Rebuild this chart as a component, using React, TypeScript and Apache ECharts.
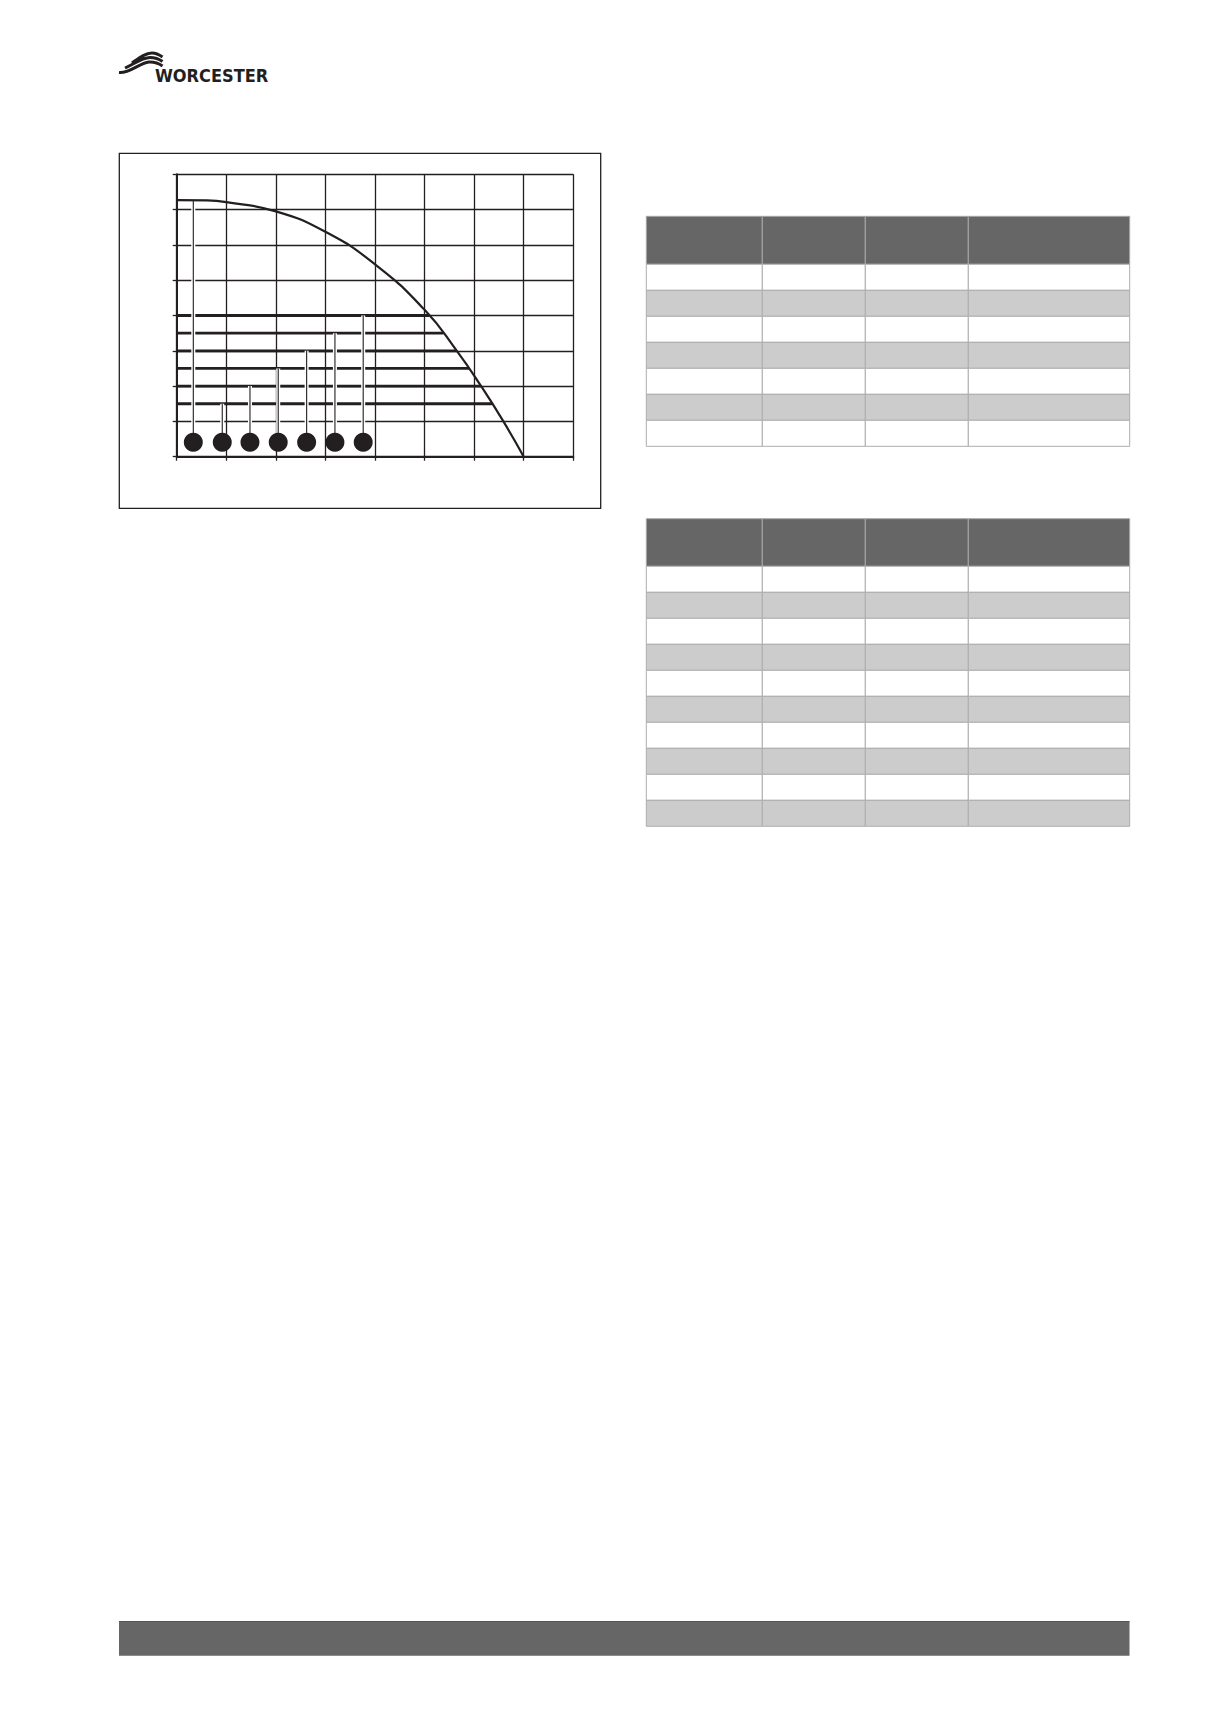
import React, { useEffect, useRef } from "react";
import * as echarts from "echarts";

// ---- chart data ----
const curveFlow = [0, 0.6, 1, 2, 3, 4, 5, 5.65, 6.14, 6.59, 7];
const curveHead = [7.27, 7.26, 7.21, 6.95, 6.37, 5.45, 4.16, 3.0, 2.0, 1.0, 0];
const levelHeads = [4.0, 3.5, 3.0, 2.5, 2.0, 1.5];
const levelEnds = [5.09, 5.38, 5.65, 5.9, 6.14, 6.365];
const markerX = [0.335, 0.919, 1.478, 2.048, 2.621, 3.192, 3.762];
const markerY = [0.41, 0.41, 0.41, 0.41, 0.41, 0.41, 0.41];
const leaderTops = [7.26, 1.5, 2.0, 2.5, 3.0, 3.5, 4.0];
const axisMin = 0;
const axisMax = 8;
const axisStep = 1;

// ---- tables (empty cells) ----
const tableColumns = [646.3, 762.3, 865.3, 968.3, 1129.7];
const table1Rows = 7;
const table2Rows = 10;

const INK = "#231f20";
const swooshD =
  "M132 63 C139 58 145 53 152 53 C156 53 159 54.5 162.5 57 " +
  "M125 68 C134 64 142 57.5 150 57.5 C155 57.5 159 59 162.5 61.5 " +
  "M119 72.5 C130 73.5 139 63 149 62 C154 61.8 159 63.5 162.5 66";

echarts.graphic.registerShape("logo", echarts.graphic.extendPath(swooshD, {}) as any);

function buildTable(top: number, headerH: number, rows: number, rowH: number) {
  const els: any[] = [];
  for (let c = 0; c < tableColumns.length - 1; c++) {
    const x = tableColumns[c];
    const w = tableColumns[c + 1] - x;
    els.push({
      type: "rect",
      shape: { x, y: top, width: w, height: headerH },
      style: { fill: "#666666", stroke: "#a8a8a8", lineWidth: 1 },
    });
    for (let r = 0; r < rows; r++) {
      els.push({
        type: "rect",
        shape: { x, y: top + headerH + r * rowH, width: w, height: rowH },
        style: { fill: r % 2 === 0 ? "#ffffff" : "#cccccc", stroke: "#adadad", lineWidth: 1 },
      });
    }
  }
  return els;
}

export default function App() {
  const ref = useRef<HTMLDivElement>(null);
  useEffect(() => {
    document.body.style.margin = "0";
    if (!ref.current) return;
    const chart = echarts.init(ref.current, null, { renderer: "svg" });
    const axisCommon = {
      type: "value" as const,
      min: axisMin,
      max: axisMax,
      interval: axisStep,
      axisLine: { show: true, onZero: false, lineStyle: { color: INK, width: 2 } },
      axisTick: { show: true, length: 4, lineStyle: { color: INK, width: 1.3 } },
      axisLabel: { show: false },
      splitLine: { show: true, lineStyle: { color: INK, width: 1.3 } },
    };
    const series: any[] = [];
    levelHeads.forEach((h, i) => {
      series.push({
        type: "line",
        data: [
          [0, h],
          [levelEnds[i], h],
        ],
        symbol: "none",
        silent: true,
        z: 2,
        lineStyle: { color: INK, width: 2.8 },
      });
    });
    markerX.forEach((x, i) => {
      series.push({
        type: "line",
        data: [
          [x, markerY[i]],
          [x, leaderTops[i]],
        ],
        symbol: "none",
        silent: true,
        z: 3,
        lineStyle: { color: "#ffffff", width: 4 },
      });
    });
    series.push({
      type: "line",
      data: curveFlow.map((x, i) => [x, curveHead[i]]),
      smooth: 0.5,
      symbol: "none",
      silent: true,
      z: 4,
      lineStyle: { color: INK, width: 2.2 },
    });
    markerX.forEach((x, i) => {
      series.push({
        type: "line",
        data: [
          [x, markerY[i]],
          [x, leaderTops[i]],
        ],
        symbol: "none",
        silent: true,
        z: 5,
        lineStyle: { color: INK, width: 1.1 },
      });
    });
    series.push({
      type: "scatter",
      data: markerX.map((x, i) => [x, markerY[i]]),
      symbol: "circle",
      symbolSize: 19,
      silent: true,
      z: 6,
      itemStyle: { color: INK, opacity: 1 },
    });

    const graphics: any[] = [
      {
        type: "rect",
        shape: { x: 119.3, y: 153.3, width: 481.4, height: 355 },
        style: { fill: "none", stroke: INK, lineWidth: 1.3 },
      },
      {
        type: "logo",
        x: 0,
        y: 0,
        style: { fill: "none", stroke: INK, lineWidth: 3, lineCap: "butt" },
      },
      {
        type: "text",
        x: 155,
        y: 76,
        scaleX: 0.9,
        style: {
          text: "WORCESTER",
          font: 'bold 18px "DejaVu Sans", "Liberation Sans", sans-serif',
          fill: INK,
          verticalAlign: "middle",
          align: "left",
        },
      },
      ...buildTable(216.3, 48, table1Rows, 26),
      ...buildTable(518.7, 47.6, table2Rows, 26),
      {
        type: "rect",
        shape: { x: 119, y: 1621, width: 1010.5, height: 34.7 },
        style: { fill: "#666666" },
      },
      {
        type: "line",
        shape: { x1: 119, y1: 1621.5, x2: 1129.5, y2: 1621.5 },
        style: { stroke: "#555555", lineWidth: 1 },
      },
    ];

    chart.setOption({
      animation: false,
      backgroundColor: "#ffffff",
      grid: { left: 176.7, top: 174.3, width: 396.6, height: 282.4, containLabel: false },
      xAxis: axisCommon,
      yAxis: axisCommon,
      series,
      graphic: { elements: graphics },
    });
    return () => chart.dispose();
  }, []);
  return <div ref={ref} style={{ width: 1224, height: 1718 }} />;
}
